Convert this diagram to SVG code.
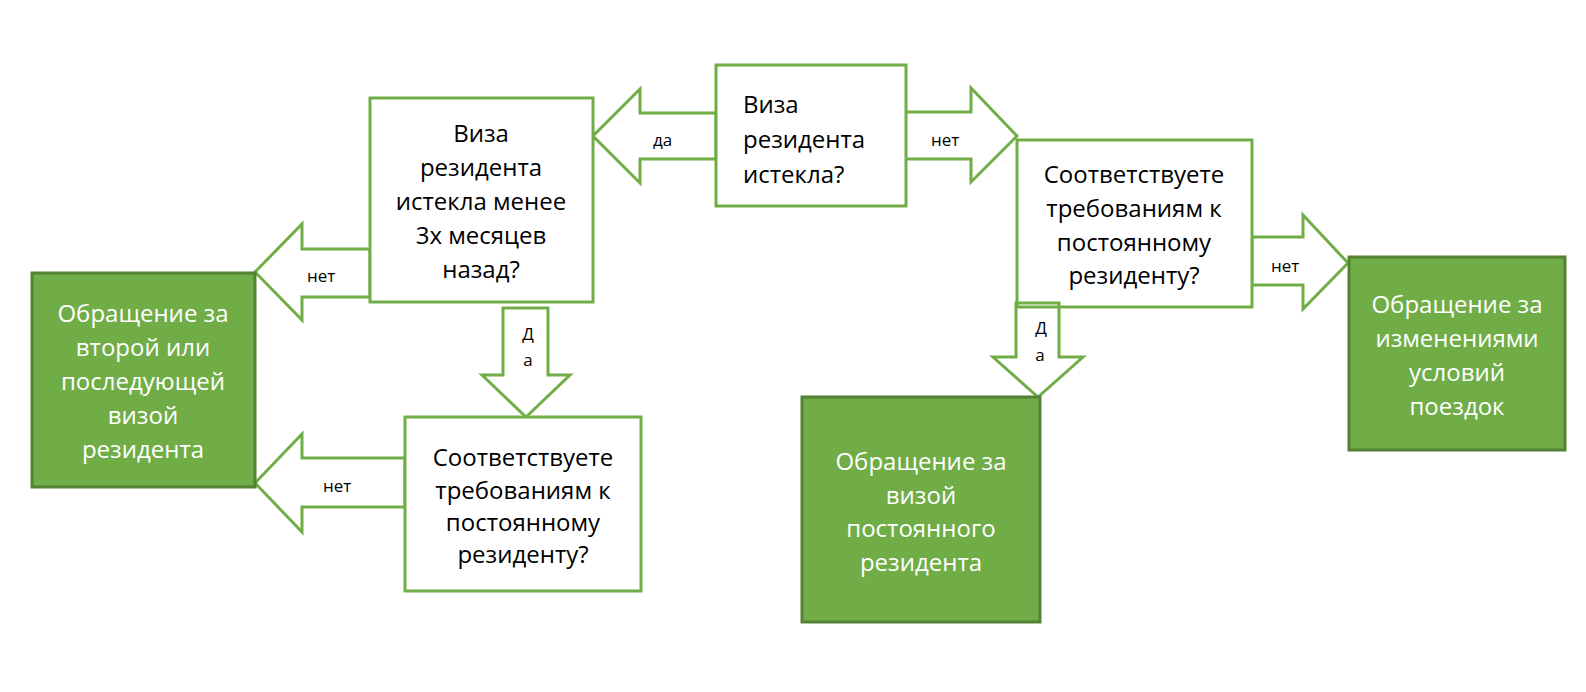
<svg xmlns="http://www.w3.org/2000/svg" width="1586" height="692" viewBox="0 0 1586 692">
<style>
.q{fill:#fff;stroke:#70AD47;stroke-width:3}
.g{fill:#70AD47;stroke:#548235;stroke-width:3}
.ar{fill:#fff;stroke:#70AD47;stroke-width:3;stroke-linejoin:miter}
.t{font-family:"Open Sans","Liberation Sans",sans-serif;font-size:24px;fill:#000}
.w{font-family:"Open Sans","Liberation Sans",sans-serif;font-size:24px;fill:#fff}
.l{font-family:"Open Sans","Liberation Sans",sans-serif;font-size:17px;fill:#000}
</style>
<rect width="1586" height="692" fill="#fff"/>
<g id="connectors">
<polygon class="ar" points="716,113 640,113 640,89 593,136 640,183 640,159 716,159"/>
<text class="l" x="653" y="146">да</text>
<polygon class="ar" points="905,112 971,112 971,88 1017,136 971,182 971,159 905,159"/>
<text class="l" x="931" y="146">нет</text>
<polygon class="ar" points="370,249 302,249 302,224 255,272 302,320 302,297 370,297"/>
<text class="l" x="307" y="282">нет</text>
<polygon class="ar" points="503,308 548,308 548,375 570,375 526,417 482,375 503,375"/>
<text class="l" x="528" y="340" text-anchor="middle">Д</text>
<text class="l" x="528" y="366" text-anchor="middle">а</text>
<polygon class="ar" points="405,458 302,458 302,434 255,483 302,532 302,507 405,507"/>
<text class="l" x="323" y="492">нет</text>
<polygon class="ar" points="1252,237 1303,237 1303,215 1348,263 1303,309 1303,285 1252,285"/>
<text class="l" x="1271" y="272">нет</text>
</g>
<g id="q1">
<rect class="q" x="716" y="65" width="190" height="141"/>
<text class="t"><tspan x="743" y="113">Виза</tspan><tspan x="743" y="148">резидента</tspan><tspan x="743" y="183">истекла?</tspan></text>
</g>
<g id="q2">
<rect class="q" x="370" y="98" width="223" height="204"/>
<text class="t" text-anchor="middle"><tspan x="481" y="142">Виза</tspan><tspan x="481" y="176">резидента</tspan><tspan x="481" y="210">истекла менее</tspan><tspan x="481" y="244">3х месяцев</tspan><tspan x="481" y="278">назад?</tspan></text>
</g>
<g id="q3">
<rect class="q" x="405" y="417" width="236" height="174"/>
<text class="t" text-anchor="middle"><tspan x="523" y="466">Соответствуете</tspan><tspan x="523" y="499">требованиям к</tspan><tspan x="523" y="531">постоянному</tspan><tspan x="523" y="563">резиденту?</tspan></text>
</g>
<g id="q4">
<rect class="q" x="1017" y="140" width="235" height="167"/>
<text class="t" text-anchor="middle"><tspan x="1134" y="183">Соответствуете</tspan><tspan x="1134" y="217">требованиям к</tspan><tspan x="1134" y="251">постоянному</tspan><tspan x="1134" y="284">резиденту?</tspan></text>
</g>
<g id="connector-da-right">
<polygon points="1016,303 1059,303 1059,357 1083,357 1038,397 993,357 1016,357" fill="none" stroke="#70AD47" stroke-width="3"/>
<text class="l" x="1041" y="334" text-anchor="middle">Д</text>
<text class="l" x="1040" y="361" text-anchor="middle">а</text>
</g>
<g id="r1">
<rect class="g" x="32" y="273" width="223" height="214"/>
<text class="w" text-anchor="middle"><tspan x="143" y="322">Обращение за</tspan><tspan x="143" y="356">второй или</tspan><tspan x="143" y="390">последующей</tspan><tspan x="143" y="424">визой</tspan><tspan x="143" y="458">резидента</tspan></text>
</g>
<g id="r2">
<rect class="g" x="1349" y="257" width="216" height="193"/>
<text class="w" text-anchor="middle"><tspan x="1457" y="313">Обращение за</tspan><tspan x="1457" y="347">изменениями</tspan><tspan x="1457" y="381">условий</tspan><tspan x="1457" y="415">поездок</tspan></text>
</g>
<g id="r3">
<rect class="g" x="802" y="397" width="238" height="225"/>
<text class="w" text-anchor="middle"><tspan x="921" y="470">Обращение за</tspan><tspan x="921" y="504">визой</tspan><tspan x="921" y="537">постоянного</tspan><tspan x="921" y="571">резидента</tspan></text>
</g>
</svg>
